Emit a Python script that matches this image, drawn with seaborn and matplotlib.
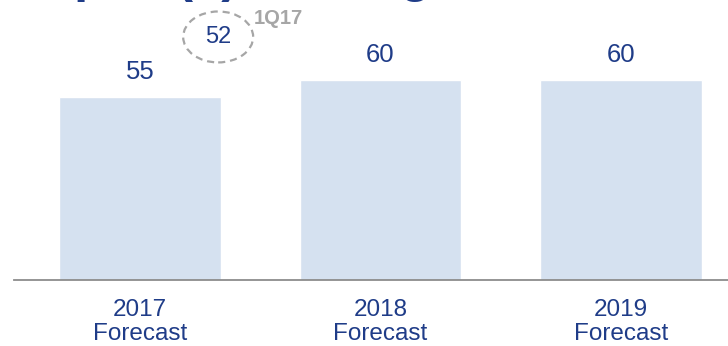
import matplotlib
matplotlib.use("Agg")
import matplotlib.pyplot as plt
from matplotlib.patches import Ellipse
import seaborn as sns
import pandas as pd

# Data
categories = ["2017\nForecast", "2018\nForecast", "2019\nForecast"]
values = [55, 60, 60]
q1_label = "1Q17"
q1_value = 52
title_text = "Capex (€), average"

sns.set_theme(style="white")
plt.rcParams["font.family"] = ["Liberation Sans", "DejaVu Sans"]

DARK = "#1F3C88"
BAR = "#D5E1F0"
GREY = "#A6A6A6"

fig = plt.figure(figsize=(7.28, 3.46), dpi=100)
ax = fig.add_axes([14 / 728, 1 - 280 / 346, 1 - 14 / 728, 280 / 346])

df = pd.DataFrame({"cat": categories, "val": values})
sns.barplot(data=df, x="cat", y="val", color=BAR, saturation=1, width=0.67, ax=ax)

ax.set_xlim(-0.524, 2.445)
ax.set_ylim(0, 84.1)
ax.set_xlabel("")
ax.set_ylabel("")
ax.set_yticks([])
for s in ["top", "left", "right"]:
    ax.spines[s].set_visible(False)
ax.spines["bottom"].set_color("#8C8C8C")
ax.spines["bottom"].set_linewidth(1.3)
ax.tick_params(axis="x", length=0, pad=13.5, labelsize=17.5, labelcolor=DARK)
for lbl in ax.get_xticklabels():
    lbl.set_linespacing(1.15)

for i, v in enumerate(values):
    ax.annotate(str(v), xy=(i, v), xytext=(0, 13), textcoords="offset points",
                ha="center", va="baseline", fontsize=18.5, color=DARK)

# 1Q17 annotation
ax.add_patch(Ellipse((0.325, 73), 0.291, 15.3, fill=False, edgecolor=GREY,
                     linewidth=1.6, linestyle=(0, (3.2, 2.2)), clip_on=False))
ax.text(0.325, 73, str(q1_value), ha="center", va="center", fontsize=17, color=DARK)
ax.text(0.574, 78.4, q1_label, ha="center", va="center", fontsize=14.5,
        fontweight="bold", color=GREY)

# Title (cut off at top of figure)
fig.text(9 / 728, 1 + 9 / 346, title_text, ha="left", va="baseline",
         fontsize=36.7, fontweight="bold", color=DARK)

fig.savefig("out.png", dpi=100)
